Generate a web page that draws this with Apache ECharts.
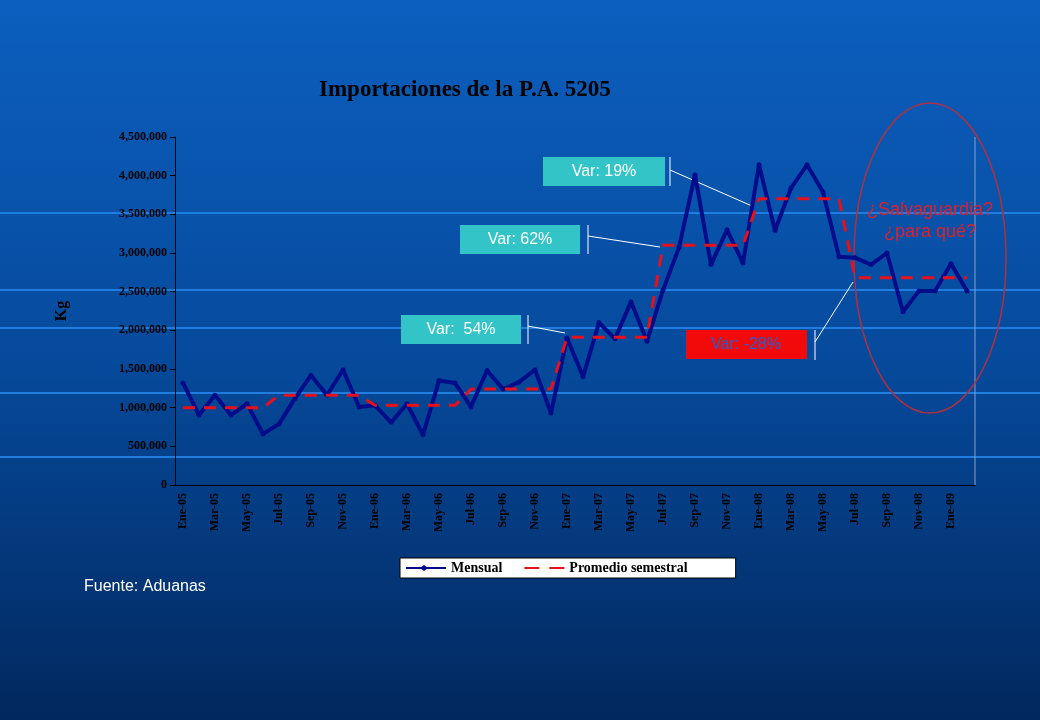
<!DOCTYPE html>
<html><head><meta charset="utf-8">
<script src="https://cdn.jsdelivr.net/npm/echarts@6/dist/echarts.min.js"></script>
<style>html,body{margin:0;padding:0;}#c{width:1040px;height:720px;}</style>
</head><body><div id="c"></div>
<script>
const years = ['05','06','07','08','09'];
const monthNames = ['Ene','Feb','Mar','Abr','May','Jun','Jul','Ago','Sep','Oct','Nov','Dic'];
const categories = [];
for (let i = 0; i < 50; i++) categories.push(monthNames[i % 12] + '-' + years[Math.floor(i / 12)]);
const mensual = [1320000,905000,1160000,905000,1050000,660000,790000,1120000,1420000,1160000,1490000,1010000,
  1030000,810000,1050000,650000,1350000,1320000,1010000,1480000,1240000,1330000,1490000,930000,
  1900000,1400000,2100000,1890000,2370000,1860000,2520000,3070000,4010000,2850000,3300000,2870000,
  4140000,3290000,3840000,4140000,3790000,2950000,2940000,2850000,3000000,2240000,2510000,2510000,
  2860000,2510000];
const semestralValues = [1000000,1160000,1030000,1240000,1910000,3100000,3700000,2680000,2680000];
const promedio = categories.map((c, i) => semestralValues[Math.floor(i / 6)]);

const chart = echarts.init(document.getElementById('c'));
const serif = 'Liberation Serif';
chart.setOption({
  backgroundColor: new echarts.graphic.LinearGradient(0,0,0,1,[{offset:0,color:'#0c5fbf'},{offset:0.5,color:'#064a9c'},{offset:1,color:'#02285e'}]),
  title: {text:'Importaciones de la P.A. 5205', left:314, top:74, textStyle:{fontFamily:serif,fontSize:23,fontWeight:'bold',color:'#000'}},
  grid: {left:175, right:65, top:137, bottom:235},
  legend: {bottom:142, left:400, itemWidth:40, itemHeight:10, itemGap:22, backgroundColor:'#fff', borderColor:'#000', borderWidth:1, padding:[3,48,3,6],
    textStyle:{fontFamily:serif,fontWeight:'bold',fontSize:14,color:'#000'},
    data:[{name:'Mensual', icon:'path://M0,4 L40,4 L40,6 L0,6 Z M18,2 L22,5 L18,8 L14,5 Z'},
          {name:'Promedio semestral', icon:'path://M0,4 L15,4 L15,6 L0,6 Z M25,4 L40,4 L40,6 L25,6 Z'}]},
  xAxis: {type:'category', data:categories, boundaryGap:true,
    axisLine:{lineStyle:{color:'#000'}}, axisTick:{interval:0,lineStyle:{color:'#000'}},
    axisLabel:{interval:1, rotate:90, fontFamily:serif, fontWeight:'bold', fontSize:12, color:'#000'}},
  yAxis: {type:'value', min:0, max:4500000, interval:500000, name:'Kg', nameLocation:'middle', nameGap:105,
    nameTextStyle:{fontFamily:serif,fontWeight:'bold',fontSize:16,color:'#000'},
    axisLine:{show:true,lineStyle:{color:'#000'}}, axisTick:{show:true,lineStyle:{color:'#000'}}, splitLine:{show:false},
    axisLabel:{fontFamily:serif, fontWeight:'bold', fontSize:12, color:'#000', formatter:v=>v.toLocaleString('en-US')}},
  series: [
    {name:'Mensual', type:'line', data:mensual, symbol:'circle', symbolSize:5, lineStyle:{color:'#000c8a',width:4}, itemStyle:{color:'#000c8a'}, z:3},
    {name:'Promedio semestral', type:'line', data:promedio, symbol:'none', lineStyle:{color:'#e8101a',width:3,type:[12,9]}, itemStyle:{color:'#e8101a'}, z:4}
  ],
  graphic: [
    {type:'line', shape:{x1:0,y1:213,x2:1040,y2:213}, style:{stroke:'#1f7de0',lineWidth:2}, z:-1, silent:true},
    {type:'line', shape:{x1:0,y1:290,x2:1040,y2:290}, style:{stroke:'#1f7de0',lineWidth:2}, z:-1, silent:true},
    {type:'line', shape:{x1:0,y1:328,x2:1040,y2:328}, style:{stroke:'#1f7de0',lineWidth:2}, z:-1, silent:true},
    {type:'line', shape:{x1:0,y1:393,x2:1040,y2:393}, style:{stroke:'#1f7de0',lineWidth:2}, z:-1, silent:true},
    {type:'line', shape:{x1:0,y1:457,x2:1040,y2:457}, style:{stroke:'#1f7de0',lineWidth:2}, z:-1, silent:true},
    {type:'line', shape:{x1:975,y1:137,x2:975,y2:485}, style:{stroke:'#8aa0c0',lineWidth:1}, silent:true},
    {type:'rect', shape:{x:543,y:157,width:122,height:29}, style:{fill:'#33c4c8'}},
    {type:'text', style:{x:604,y:172,text:'Var: 19%',fill:'#fff',font:'16px Liberation Sans',align:'center',verticalAlign:'middle'}},
    {type:'line', shape:{x1:670,y1:157,x2:670,y2:186}, style:{stroke:'#fff',lineWidth:1}},
    {type:'line', shape:{x1:670,y1:170,x2:752,y2:206}, style:{stroke:'#fff',lineWidth:1}},
    {type:'rect', shape:{x:460,y:225,width:120,height:29}, style:{fill:'#33c4c8'}},
    {type:'text', style:{x:520,y:240,text:'Var: 62%',fill:'#fff',font:'16px Liberation Sans',align:'center',verticalAlign:'middle'}},
    {type:'line', shape:{x1:588,y1:225,x2:588,y2:254}, style:{stroke:'#fff',lineWidth:1}},
    {type:'line', shape:{x1:588,y1:236,x2:660,y2:247}, style:{stroke:'#fff',lineWidth:1}},
    {type:'rect', shape:{x:401,y:315,width:120,height:29}, style:{fill:'#33c4c8'}},
    {type:'text', style:{x:461,y:330,text:'Var:  54%',fill:'#fff',font:'16px Liberation Sans',align:'center',verticalAlign:'middle'}},
    {type:'line', shape:{x1:528,y1:315,x2:528,y2:344}, style:{stroke:'#fff',lineWidth:1}},
    {type:'line', shape:{x1:528,y1:326,x2:565,y2:333}, style:{stroke:'#fff',lineWidth:1}},
    {type:'rect', shape:{x:686,y:330,width:121,height:29}, style:{fill:'#f20a0a'}},
    {type:'text', style:{x:746,y:345,text:'Var: -28%',fill:'#2060d0',font:'16px Liberation Sans',align:'center',verticalAlign:'middle'}},
    {type:'line', shape:{x1:815,y1:330,x2:815,y2:360}, style:{stroke:'#fff',lineWidth:1}},
    {type:'line', shape:{x1:815,y1:342,x2:853,y2:282}, style:{stroke:'#fff',lineWidth:1}},
    {type:'ellipse', shape:{cx:930,cy:258,rx:76,ry:155}, style:{fill:'none',stroke:'#b03040',lineWidth:1.5}},
    {type:'text', style:{x:930,y:221,text:'¿Salvaguardia?\n¿para qué?',fill:'#e0202a',font:'18px Liberation Sans',align:'center',verticalAlign:'middle',lineHeight:22}},
    {type:'text', style:{x:84,y:587,text:'Fuente: Aduanas',fill:'#fff',font:'16px Liberation Sans',verticalAlign:'middle'}}
  ]
});
</script></body></html>
